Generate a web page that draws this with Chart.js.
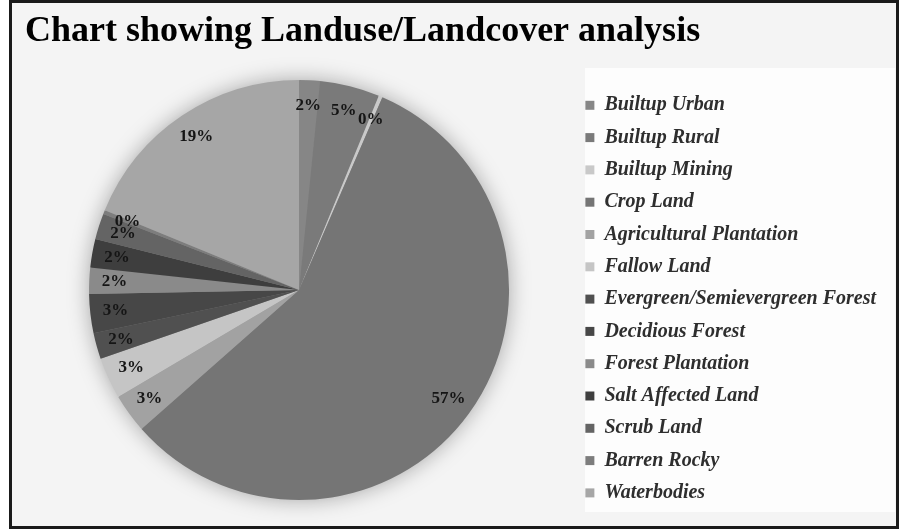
<!DOCTYPE html>
<html>
<head>
<meta charset="utf-8">
<script src="https://cdn.jsdelivr.net/npm/chart.js@4"></script>
<style>
  html, body { margin: 0; padding: 0; background: #ffffff; }
  #wrap { width: 901px; height: 531px; }
</style>
</head>
<body>
<div id="wrap"><canvas id="luChart" width="901" height="531"></canvas></div>
<script>
// categories, in slice order (clockwise from 12 o'clock)
const classLabels = [
    'Builtup Urban', 'Builtup Rural', 'Builtup Mining', 'Crop Land',
    'Agricultural Plantation', 'Fallow Land', 'Evergreen/Semievergreen Forest',
    'Decidious Forest', 'Forest Plantation', 'Salt Affected Land',
    'Scrub Land', 'Barren Rocky', 'Waterbodies'
];
// share of area, percent
const classShare = [1.6, 4.6, 0.3, 57.0, 3.0, 3.2, 2.0, 3.0, 2.0, 2.2, 2.0, 0.3, 18.8];
// grey shades of the slices
const sliceGreys = [
    '#868686', '#7a7a7a', '#c9c9c9', '#757575', '#a2a2a2', '#c5c5c5', '#505050',
    '#474747', '#8a8a8a', '#3e3e3e', '#646464', '#7d7d7d', '#a6a6a6'
];

// frame, grey panel and white legend box
const framePlugin = {
    id: 'frame',
    beforeDraw(chart) {
        const ctx = chart.ctx;
        ctx.save();
        ctx.fillStyle = '#ffffff';
        ctx.fillRect(0, 0, chart.width, chart.height);
        ctx.fillStyle = '#f4f4f4';
        ctx.fillRect(11, 2, 886, 524);
        ctx.fillStyle = '#fdfdfd';
        ctx.fillRect(585, 68, 310, 444);
        ctx.lineWidth = 3;
        ctx.strokeStyle = '#1a1a1a';
        ctx.strokeRect(10.5, 1.5, 887, 526);
        ctx.restore();
    },
    // soft glow behind the pie
    beforeDatasetsDraw(chart) {
        const arc = chart.getDatasetMeta(0).data[0];
        if (!arc) return;
        const ctx = chart.ctx;
        ctx.save();
        ctx.shadowColor = 'rgba(0,0,0,0.35)';
        ctx.shadowBlur = 22;
        ctx.fillStyle = '#888888';
        ctx.beginPath();
        ctx.arc(arc.x, arc.y, arc.outerRadius - 1, 0, Math.PI * 2);
        ctx.fill();
        ctx.restore();
    }
};

// percentage labels inside the outer edge
const pctLabels = {
    id: 'pctLabels',
    afterDatasetsDraw(chart) {
        const ctx = chart.ctx;
        const meta = chart.getDatasetMeta(0);
        const total = classShare.reduce((a, b) => a + b, 0);
        ctx.save();
        ctx.font = 'bold 17px "Liberation Serif", "Times New Roman", serif';
        ctx.fillStyle = '#151515';
        ctx.textAlign = 'center';
        ctx.textBaseline = 'middle';
        meta.data.forEach((arc, i) => {
            const mid = (arc.startAngle + arc.endAngle) / 2;
            const r = arc.outerRadius * 0.88;
            const x = arc.x + Math.cos(mid) * r;
            const y = arc.y + Math.sin(mid) * r;
            ctx.fillText(Math.round(classShare[i] / total * 100) + '%', x, y);
        });
        ctx.restore();
    }
};

new Chart(document.getElementById('luChart'), {
    type: 'pie',
    data: {
        labels: classLabels,
        datasets: [{
            data: classShare,
            backgroundColor: sliceGreys,
            borderColor: sliceGreys,
            borderWidth: 0,
            radius: 210
        }]
    },
    options: {
        responsive: false,
        animation: false,
        layout: { padding: { left: 25, right: 15, top: 4, bottom: 13 } },
        plugins: {
            title: {
                display: true,
                align: 'start',
                text: 'Chart showing Landuse/Landcover analysis',
                color: '#000000',
                font: { family: '"Liberation Serif", "Times New Roman", serif', size: 36, weight: 'bold' },
                padding: { top: 6, bottom: 8.8 }
            },
            legend: {
                position: 'right',
                align: 'start',
                // blank title only pushes the entries down below the chart title
                title: {
                    display: true,
                    text: ' ',
                    font: { size: 10 },
                    padding: { top: 62, bottom: 5 }
                },
                labels: {
                    color: '#2e2e2e',
                    boxWidth: 9,
                    boxHeight: 9,
                    padding: 12.3,
                    font: { family: '"Liberation Serif", "Times New Roman", serif', size: 20, style: 'italic', weight: 'bold' }
                }
            },
            tooltip: { enabled: false }
        }
    },
    plugins: [framePlugin, pctLabels]
});
</script>
</body>
</html>
